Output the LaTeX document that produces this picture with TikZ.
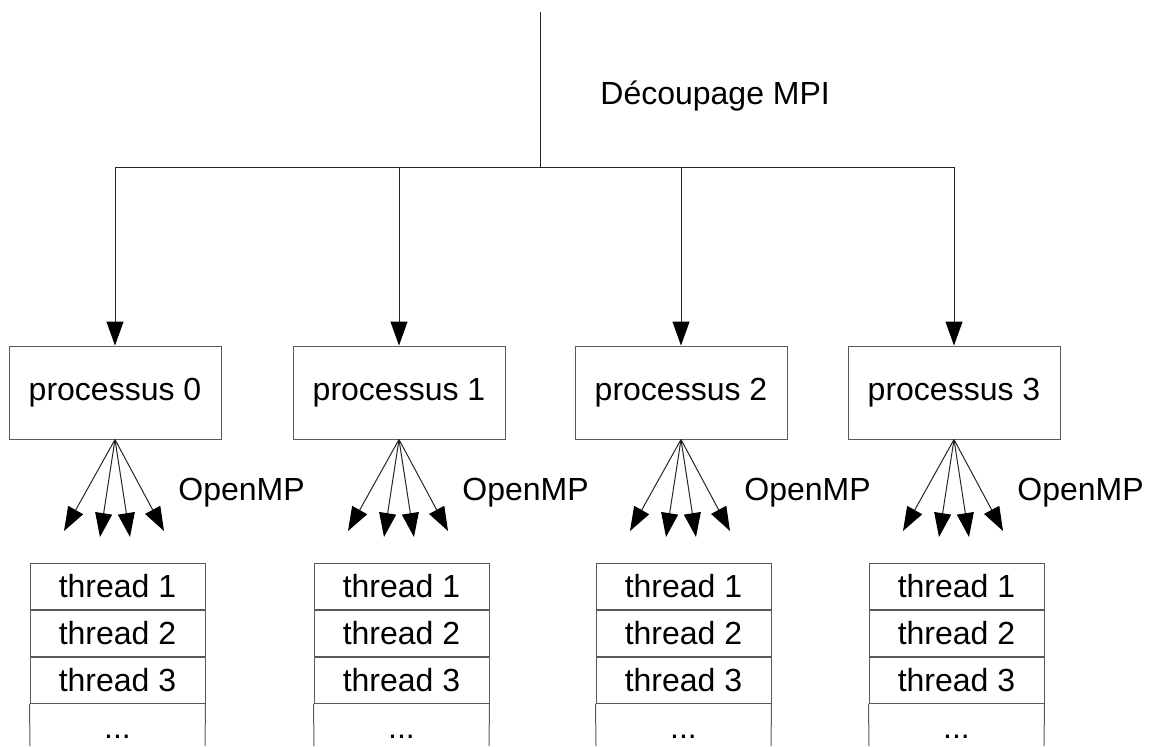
\documentclass[tikz,border=0pt]{standalone}
\usepackage{fontspec}
\setmainfont{Liberation Sans}
\usetikzlibrary{arrows.meta}
\tikzset{
  bigtip/.tip={Triangle[length=12pt,width=8.5pt,color=black]},
  proc/.style={draw=black!65, line width=0.5pt, minimum width=106pt, minimum height=46.5pt, inner sep=0pt, font=\fontsize{16}{19}\selectfont},
  thr/.style={draw=black!65, line width=0.5pt, minimum width=87.5pt, minimum height=23pt, inner sep=0pt, font=\fontsize{16}{19}\selectfont},
  lbl/.style={inner sep=0pt, font=\fontsize{16}{19}\selectfont},
  conn/.style={draw=black!85, line width=0.5pt},
  arr/.style={conn, -{bigtip}},
}
\begin{document}
\begin{tikzpicture}[x=0.5pt,y=-0.5pt]
\useasboundingbox (0,0) rectangle (1152,746);
\coordinate (top) at (540,12);
\coordinate (split) at (540,167);
\node[lbl, anchor=base west] (mpi) at (600,104) {Découpage MPI};
\draw[conn] (top) -- (split);
\foreach \i/\x in {0/115,1/399,2/681,3/954}{
  \node[proc] (p\i) at (\x,392.5) {processus \i};
  \coordinate (h\i) at (\x,167);
  \draw[arr] (h\i) -- (p\i.north);
  \coordinate (f\i a) at (\x-51,531);
  \coordinate (f\i b) at (\x-15,537);
  \coordinate (f\i c) at (\x+15,537);
  \coordinate (f\i d) at (\x+49,531);
  \foreach \e in {a,b,c,d}{ \draw[arr] (p\i.south) -- (f\i\e); }
  \node[lbl, anchor=base west] (omp\i) at (\x+63,500) {OpenMP};
  \node[thr] (t\i1) at (\x+2.5,586) {thread 1};
  \node[thr, anchor=north] (t\i2) at (t\i1.south) {thread 2};
  \node[thr, anchor=north] (t\i3) at (t\i2.south) {thread 3};
  \node[lbl, anchor=base] (t\i4) at (\x+2.5,738) {...};
  \coordinate (b\i l) at (\x-85,746);
  \coordinate (b\i r) at (\x+90,746);
  \draw[draw=black!65, line width=0.5pt] (t\i3.south west) -- (b\i l);
  \draw[draw=black!65, line width=0.5pt] (t\i3.south east) -- (b\i r);
}
\draw[conn] (h0) -- (h3);
\end{tikzpicture}
\end{document}
